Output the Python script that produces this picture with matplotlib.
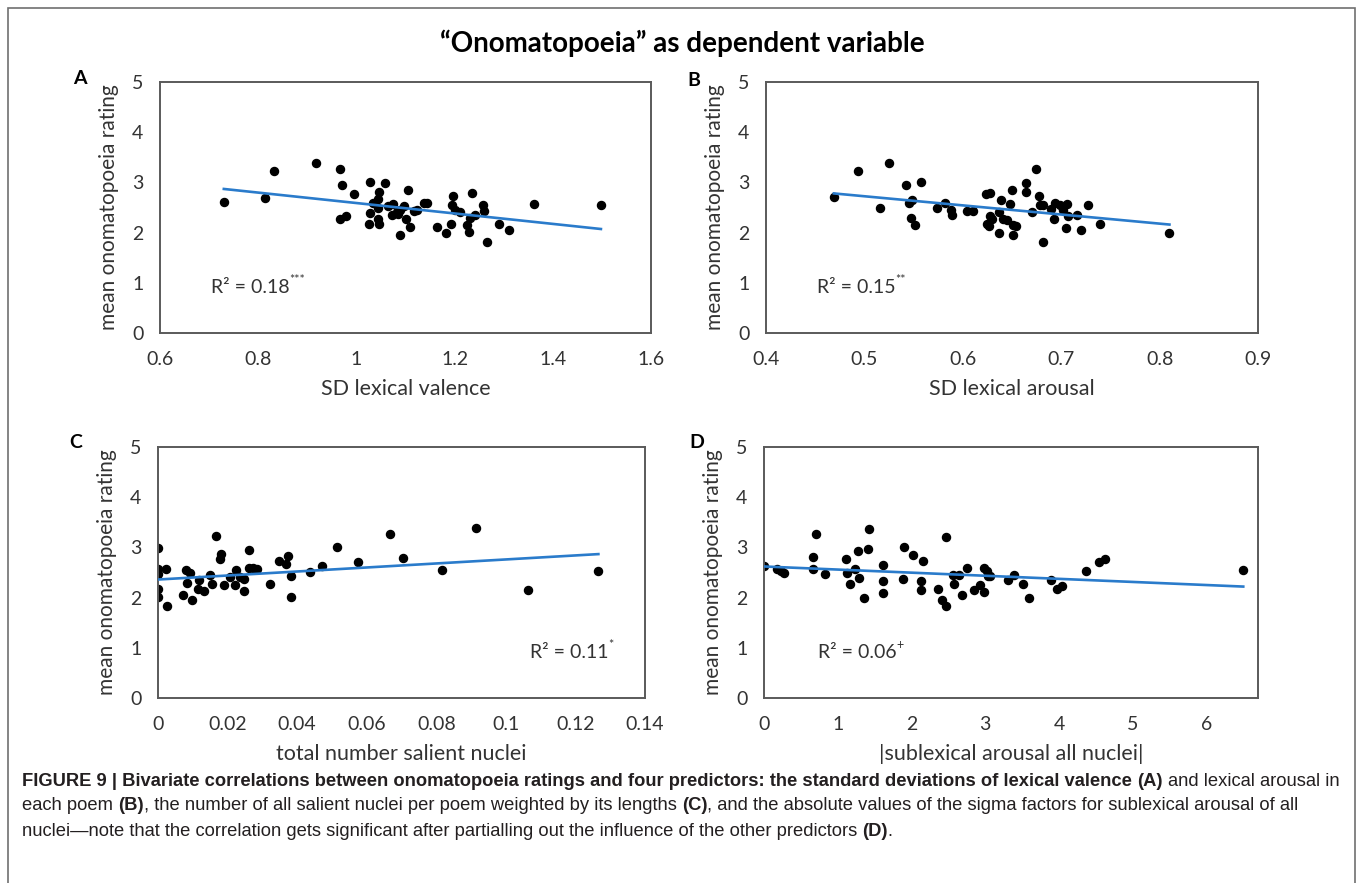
import matplotlib
matplotlib.use("Agg")
import matplotlib.pyplot as plt
from matplotlib.patches import Rectangle
import numpy as np

plt.rcParams["font.family"] = ["Lato", "DejaVu Sans"]

# ---- data ----
a_x = [0.730, 0.814, 0.832, 0.917, 0.966, 0.971, 0.996, 0.967, 0.979, 1.028, 1.058, 1.046, 1.043,
       1.034, 1.045, 1.028, 1.025, 1.045, 1.046, 1.075, 1.073, 1.085, 1.096, 1.089, 1.106, 1.101,
       1.109, 1.088, 1.117, 1.124, 1.138, 1.144, 1.164, 1.183, 1.193, 1.196, 1.194, 1.201, 1.210,
       1.225, 1.229, 1.231, 1.235, 1.242, 1.257, 1.259, 1.267, 1.290, 1.311, 1.362, 1.498, 1.065, 1.082]
a_y = [2.61, 2.69, 3.22, 3.38, 3.27, 2.94, 2.76, 2.28, 2.34, 3.01, 2.98, 2.81, 2.66,
       2.58, 2.49, 2.39, 2.17, 2.27, 2.18, 2.56, 2.36, 2.37, 2.53, 2.45, 2.85, 2.27,
       2.11, 1.96, 2.44, 2.46, 2.59, 2.59, 2.12, 2.00, 2.17, 2.73, 2.54, 2.46, 2.41,
       2.15, 2.01, 2.29, 2.78, 2.36, 2.55, 2.43, 1.82, 2.18, 2.05, 2.57, 2.54, 2.52, 2.42]

b_x = [0.469, 0.493, 0.525, 0.516, 0.542, 0.558, 0.545, 0.548, 0.547, 0.551, 0.574, 0.582, 0.588,
       0.589, 0.604, 0.610, 0.624, 0.628, 0.639, 0.637, 0.628, 0.630, 0.625, 0.627, 0.637, 0.641,
       0.645, 0.650, 0.648, 0.651, 0.654, 0.651, 0.664, 0.664, 0.674, 0.677, 0.670, 0.678, 0.682,
       0.682, 0.690, 0.693, 0.694, 0.699, 0.702, 0.705, 0.706, 0.707, 0.716, 0.720, 0.727, 0.739, 0.810]
b_y = [2.70, 3.22, 3.38, 2.49, 2.94, 3.01, 2.59, 2.64, 2.29, 2.16, 2.49, 2.58, 2.46,
       2.35, 2.43, 2.44, 2.77, 2.79, 2.65, 2.41, 2.33, 2.27, 2.18, 2.13, 2.00, 2.27,
       2.25, 2.85, 2.56, 2.15, 2.14, 1.95, 2.98, 2.81, 3.27, 2.73, 2.41, 2.54, 2.55,
       1.82, 2.47, 2.28, 2.58, 2.54, 2.46, 2.10, 2.57, 2.34, 2.36, 2.05, 2.55, 2.18, 2.00]

c_x = [0.0, 0.0, 0.0, 0.0022, 0.0, 0.0001, 0.0025, 0.0073, 0.0097, 0.0080, 0.0092, 0.0082, 0.0118,
       0.0116, 0.0133, 0.0149, 0.0154, 0.0166, 0.0181, 0.0179, 0.0191, 0.0207, 0.0223, 0.0220,
       0.0236, 0.0248, 0.0248, 0.0261, 0.0262, 0.0274, 0.0286, 0.0322, 0.0349, 0.0368, 0.0375,
       0.0383, 0.0383, 0.0438, 0.0472, 0.0515, 0.0575, 0.0666, 0.0704, 0.0817, 0.0913, 0.1063, 0.1266]
c_y = [2.98, 2.56, 2.47, 2.56, 2.18, 2.01, 1.83, 2.05, 1.95, 2.54, 2.50, 2.29, 2.35,
       2.17, 2.13, 2.46, 2.28, 3.22, 2.86, 2.76, 2.26, 2.41, 2.54, 2.25,
       2.41, 2.37, 2.14, 2.94, 2.58, 2.58, 2.56, 2.28, 2.73, 2.66, 2.82,
       2.44, 2.01, 2.51, 2.63, 3.01, 2.70, 3.27, 2.78, 2.54, 3.39, 2.15, 2.53]

d_x = [0.0, 0.18, 0.23, 0.27, 0.70, 0.67, 0.67, 0.83, 1.11, 1.12, 1.23, 1.16, 1.29, 1.27, 1.41,
       1.43, 1.36, 1.62, 1.62, 1.62, 1.90, 1.89, 2.02, 2.15, 2.13, 2.13, 2.36, 2.41, 2.47, 2.47,
       2.56, 2.58, 2.64, 2.69, 2.75, 2.85, 2.93, 2.98, 2.98, 3.02, 3.04, 3.07, 3.31, 3.39, 3.51,
       3.60, 3.89, 3.97, 4.04, 4.37, 4.55, 4.62, 6.50]
d_y = [2.62, 2.56, 2.52, 2.50, 3.26, 2.80, 2.56, 2.47, 2.76, 2.50, 2.56, 2.28, 2.40, 2.93, 2.97,
       3.37, 2.00, 2.65, 2.34, 2.10, 3.00, 2.38, 2.84, 2.72, 2.34, 2.16, 2.17, 1.95, 1.83, 3.21,
       2.46, 2.28, 2.45, 2.05, 2.58, 2.16, 2.26, 2.12, 2.58, 2.52, 2.43, 2.44, 2.35, 2.45, 2.28,
       2.00, 2.36, 2.17, 2.24, 2.53, 2.70, 2.77, 2.54]

# trend lines (slope, intercept)
fits = [(-1.039, 3.628), (-1.818, 3.633), (4.0, 2.36), (-0.0616, 2.62)]
r2_text = ["R² = 0.18", "R² = 0.15", "R² = 0.11", "R² = 0.06"]
r2_sig = ["***", "**", "*", "+"]
r2_pos = [(0.104, 0.183), (0.103, 0.183), (0.764, 0.183), (0.109, 0.183)]

x_labels = ["SD lexical valence", "SD lexical arousal", "total number salient nuclei",
            "|sublexical arousal all nuclei|"]
x_ticks = [[0.6, 0.8, 1.0, 1.2, 1.4, 1.6], [0.4, 0.5, 0.6, 0.7, 0.8, 0.9],
           [0, 0.02, 0.04, 0.06, 0.08, 0.1, 0.12, 0.14], [0, 1, 2, 3, 4, 5, 6]]
x_ticklabels = [["0.6", "0.8", "1", "1.2", "1.4", "1.6"], ["0.4", "0.5", "0.6", "0.7", "0.8", "0.9"],
                ["0", "0.02", "0.04", "0.06", "0.08", "0.1", "0.12", "0.14"],
                ["0", "1", "2", "3", "4", "5", "6"]]
x_limits = [(0.6, 1.6), (0.4, 0.9), (0, 0.14), (0, 6.7)]
letters = ["A", "B", "C", "D"]

W, H = 1358, 883
fig = plt.figure(figsize=(W / 100, H / 100), dpi=100)

# axes boxes in pixels: left, top, right, bottom
boxes = [(160, 82, 651, 333), (766, 82, 1258, 333), (158, 447, 645, 698), (764, 447, 1258, 698)]
letter_pos = [(80, 79), (694, 81), (76, 443), (697, 443)]

xs = [a_x, b_x, c_x, d_x]
ys = [a_y, b_y, c_y, d_y]

txt_col = "#333333"
for i in range(4):
    l, t, r, b = boxes[i]
    ax = fig.add_axes([l / W, 1 - b / H, (r - l) / W, (b - t) / H])
    ax.plot(xs[i], ys[i], "o", color="black", ms=5.8, zorder=2)
    xx = np.array([min(xs[i]), max(xs[i])])
    ax.plot(xx, fits[i][0] * xx + fits[i][1], color="#2A7BCB", lw=1.9, zorder=3)
    ax.set_xlim(*x_limits[i])
    ax.set_ylim(0, 5)
    ax.set_yticks([0, 1, 2, 3, 4, 5])
    ax.set_xticks(x_ticks[i])
    ax.set_xticklabels(x_ticklabels[i])
    ax.tick_params(length=0, labelsize=14, labelcolor=txt_col)
    ax.tick_params(axis="x", pad=13)
    ax.tick_params(axis="y", pad=12)
    for s in ax.spines.values():
        s.set_color("#5a5a5a")
        s.set_linewidth(1.4)
    ax.set_xlabel(x_labels[i], fontsize=15.5, color=txt_col, labelpad=8)
    ax.set_ylabel("mean onomatopoeia rating", fontsize=15, color=txt_col, labelpad=9)
    rt = ax.text(r2_pos[i][0], r2_pos[i][1], r2_text[i], transform=ax.transAxes,
                 fontsize=14, color=txt_col, va="center", ha="left")
    ax.annotate(r2_sig[i], xy=(1.0, 0.92), xycoords=rt, fontsize=9, color=txt_col,
                va="center", ha="left")
    fig.text(letter_pos[i][0] / W, 1 - letter_pos[i][1] / H, letters[i], fontsize=14,
             fontweight="bold", ha="center", va="center", color="black")

fig.text(682 / W, 1 - 43 / H, "\u201cOnomatopoeia\u201d as dependent variable", fontsize=20,
         fontweight="bold", ha="center", va="center", color="black")

# outer frame
fig.patches.append(Rectangle((8 / W, -0.02), (1355 - 8) / W, 1.02 - 8 / H, transform=fig.transFigure,
                             fill=False, edgecolor="#707070", lw=1.2))

# caption with mixed bold / normal runs
caption = [
    [("FIGURE 9 | Bivariate correlations between onomatopoeia ratings and four predictors: "
      "the standard deviations of lexical valence", True, False), ("(A)", True, True),
     ("and lexical arousal in", False, True)],
    [("each poem", False, False), ("(B)", True, True),
     (", the number of all salient nuclei per poem weighted by its lengths", False, False),
     ("(C)", True, True),
     (", and the absolute values of the sigma factors for sublexical arousal of all", False, False)],
    [("nuclei\u2014note that the correlation gets significant after partialling out the influence "
      "of the other predictors", False, False), ("(D)", True, True), (".", False, False)],
]
cap_y = [781, 806, 831]
renderer = fig.canvas.get_renderer()


def write_line(parts, y, size):
    x = 22.0
    made = []
    for txt, bold, gap in parts:
        if gap:
            x += 0.278 * size * 100 / 72
        t = fig.text(x / W, 1 - y / H, txt, fontsize=size, family=["Liberation Sans", "DejaVu Sans"],
                     fontweight="bold" if bold else "normal", va="center", ha="left", color="#231f20")
        made.append(t)
        x = t.get_window_extent(renderer=renderer).x1
    return x, made


end, tmp = write_line(caption[0], cap_y[0], 12)
for t in tmp:
    t.remove()
size = 12 * (1340 - 22) / (end - 22)
for parts, y in zip(caption, cap_y):
    write_line(parts, y, size)

fig.savefig("out.png", dpi=100, facecolor="white")
